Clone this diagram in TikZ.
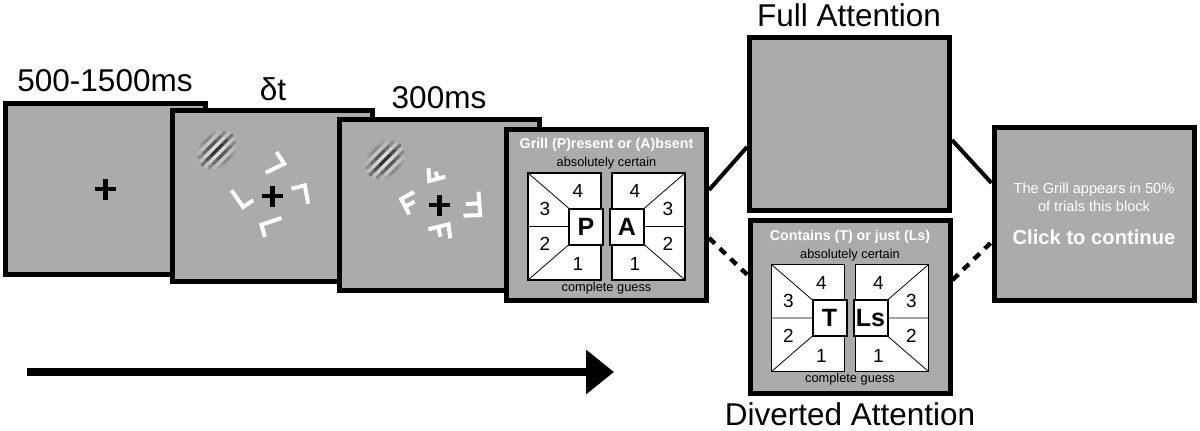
\documentclass[tikz,border=0pt]{standalone}
\usepackage{fontspec}
\setmainfont{Liberation Sans}
\usetikzlibrary{positioning, calc, arrows.meta}

\definecolor{screengray}{RGB}{171,171,171}

\tikzset{
  panel/.style={draw, line width=2.5pt, fill=screengray, inner sep=0pt,
    minimum width=100pt, minimum height=85.5pt},
  heading/.style={anchor=base, inner sep=0pt, font=\fontsize{15.75}{19}\selectfont},
  fixcross/.style={line width=2.2pt},
  flank/.style={white, line width=2pt},
  link/.style={line width=2pt},
  dlink/.style={line width=2.2pt, dash pattern=on 4pt off 3.5pt},
  timeline/.style={line width=4pt, -{Triangle[length=14pt, width=21.5pt]}},
  wtitle/.style={white, inner sep=0pt, font=\bfseries\fontsize{7.1}{8.5}\selectfont},
  scaletext/.style={inner sep=0pt, font=\fontsize{6.4}{7.5}\selectfont},
  boxline/.style={fill=white, line width=0.75pt},
  gridline/.style={line width=0.4pt},
  digit/.style={inner sep=0pt, font=\fontsize{9.5}{11}\selectfont},
  keybox/.style={draw, fill=white, line width=1pt, inner sep=0pt,
    minimum width=17pt, minimum height=18pt, font=\bfseries\fontsize{12.5}{14}\selectfont},
  notetext/.style={white, inner sep=0pt, align=center, font=\fontsize{7.3}{9}\selectfont},
  clicktext/.style={white, inner sep=0pt, font=\bfseries\fontsize{10.1}{12}\selectfont},
  pics/fixation/.style={code={
    \draw[fixcross] (-10.5,0) -- (10.5,0) (0,-10.5) -- (0,10.5);
  }},
  pics/gabor/.style={code={
    \foreach \k/\c/\o/\a in {-4/black/0.15/8, -3/white/0.3/11, -2/black/0.45/13,
        -1/white/0.6/14, 0/black/0.75/15, 1/white/0.6/14, 2/black/0.45/13,
        3/white/0.3/11, 4/black/0.15/8}{
      \pgfmathsetmacro\op{\o/2.4}
      \foreach \f in {1,0.66,0.33}{
        \draw[\c, opacity=\op, line width=1.6pt, line cap=round]
          (\k*2.5-\a*\f, \k*2.5+\a*\f) -- (\k*2.5+\a*\f, \k*2.5-\a*\f);
      }
    }
  }},
  pics/rating/.style={code={
    \draw[boxline] (-36.5,-53.5) rectangle (36.5,53.5);
    \draw[gridline] (-36.5,-53.5) -- (4.5,-18)
                    (-36.5,0) -- (4.5,0)
                    (-36.5,53.5) -- (4.5,18);
    \node[digit] (-four)  at (13.5,-35.5) {4};
    \node[digit] (-three) at (-19.5,-17.5) {3};
    \node[digit] (-two)   at (-19.5,17.5) {2};
    \node[digit] (-one)   at (13.5,37.5) {1};
    \node[keybox] (-key)  at (21.5,0) {#1};
  }},
  pics/judge/.style n args={3}{code={
    \node[wtitle] (-title) at (0,-70) {#1};
    \node[scaletext] (-top) at (0,-51.5) {absolutely certain};
    \pic (-left) at (-42,11.5) {rating=#2};
    \pic[xscale=-1] (-right) at (42,11.5) {rating=#3};
    \node[scaletext] (-bottom) at (0,73) {complete guess};
  }},
}

\begin{document}
\begin{tikzpicture}[x=0.5pt, y=-0.5pt]
  \useasboundingbox (0,0) rectangle (1200,430);

  % trial screens
  \node[panel] (fix) at (105.5,189) {};
  \pic at (fix) {fixation};
  \node[heading] (fixlabel) at (105,91) {500-1500ms};

  \node[panel] (cue) at (272.5,196) {};
  \pic at (217,150) {gabor};
  \pic at (cue) {fixation};
  \begin{scope}[shift={(cue)}]
    \draw[flank] (4,-44) -- (11.7,-32.3) -- (-6.7,-23.3);
    \draw[flank] (-41,-5.7) -- (-29.3,11) -- (-19.3,4.3);
    \draw[flank] (19,-7.3) -- (32.3,-10.7) -- (35.7,7.7);
    \draw[flank] (9,22) -- (-11,28.7) -- (-7.7,41);
  \end{scope}
  \node[heading] (cuelabel) at (273,100) {δt};

  \node[panel] (target) at (439.5,205) {};
  \pic at (385,160) {gabor};
  \pic at (target) {fixation};
  \begin{scope}[shift={(target)}]
    % masks
    \draw[flank] (5.7,-28.3) -- (-10.3,-24) -- (-11,-36.7) (-2,-26) -- (-3.7,-33.3);
    \draw[flank] (-30.3,9.3) -- (-38.3,-6) -- (-25.5,-13) (-34.3,1.6) -- (-25,-3.3);
    \draw[flank] (39,-13.3) -- (40.7,10) -- (24,10.7) (39.8,-1.6) -- (26.3,-1);
    \draw[flank] (-11,24.3) -- (9,19.3) -- (10.7,33.3) (-1,21.8) -- (0.7,31.7);
  \end{scope}
  \node[heading] (targetlabel) at (439,108) {300ms};

  \node[panel] (resp) at (606.5,215) {};
  \pic (grill) at (resp) {judge={Grill (P)resent or (A)bsent}{P}{A}};

  % attention conditions
  \node[panel, minimum height=86.5pt] (full) at (849.5,123.5) {};
  \node[heading] (fulllabel) at (849,26) {Full Attention};

  \node[panel, minimum height=86.5pt] (divert) at (850,306.5) {};
  \pic (letters) at (divert) {judge={Contains (T) or just (Ls)}{T}{Ls}};
  \node[heading] (divertlabel) at (850,425) {Diverted Attention};

  \node[panel, minimum height=86.5pt] (note) at (1094,214) {};
  \node[notetext] (notemsg) at (1094,197) {The Grill appears in 50\%\\of trials this block};
  \node[clicktext] (noteclick) at (1094,237) {Click to continue};

  \draw[link] ([yshift=12.5pt]resp.east) -- ([yshift=-11.75pt]full.west);
  \draw[link] ([yshift=-8.25pt]full.east) -- ([yshift=15.5pt]note.west);
  \draw[dlink] ([yshift=-11.5pt]resp.east) -- ([yshift=15.75pt]divert.west);
  \draw[dlink] ([yshift=13.25pt]divert.east) -- ([yshift=-14pt]note.west);

  % time axis
  \coordinate (t0) at (27,372);
  \coordinate (t1) at (614,372);
  \draw[timeline] (t0) -- (t1);
\end{tikzpicture}
\end{document}
